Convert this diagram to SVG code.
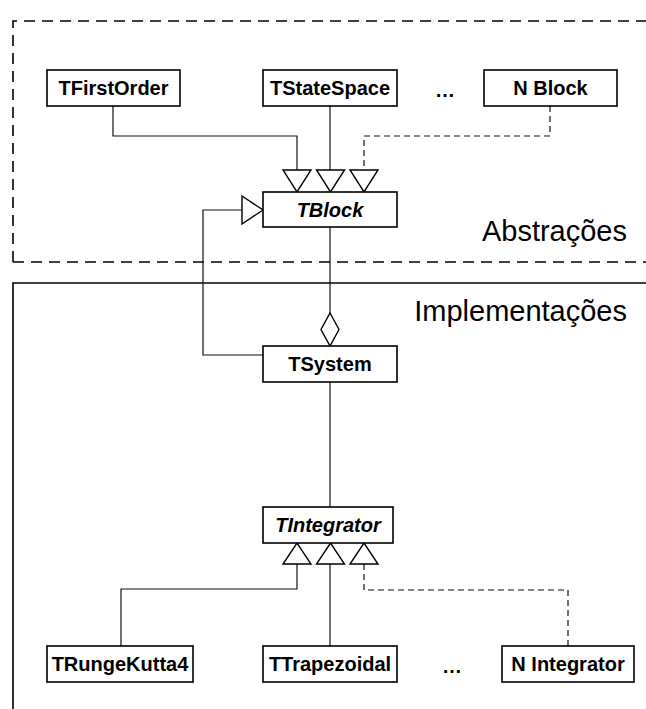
<svg xmlns="http://www.w3.org/2000/svg" width="646" height="709" viewBox="0 0 646 709">
  <defs>
    <style>
      .box { fill: #fff; stroke: #000; stroke-width: 1.6; }
      .lbl { font-family: "Liberation Sans", Arial, sans-serif; font-weight: bold; font-size: 20px; fill: #000; text-anchor: middle; }
      .abs { font-style: italic; }
      .area { font-family: "Liberation Sans", Arial, sans-serif; font-size: 29px; fill: #000; text-anchor: end; }
      .wire { fill: none; stroke: #111; stroke-width: 1.2; }
      .dash { stroke-dasharray: 6 4; }
      .head { fill: #fff; stroke: #000; stroke-width: 1.4; }
    </style>
  </defs>

  <!-- package frames -->
  <g id="frame-abstracoes">
    <path d="M13 262 V21 H646 M13 262 H646" fill="none" stroke="#000" stroke-width="1.6" stroke-dasharray="11 7"/>
    <text class="area" x="627" y="241">Abstrações</text>
  </g>
  <g id="frame-implementacoes">
    <path d="M13 709 V283 H646" fill="none" stroke="#000" stroke-width="1.6"/>
    <text class="area" x="627" y="321">Implementações</text>
  </g>

  <!-- connectors -->
  <g id="connectors">
    <path class="wire" d="M113 106 V136 H297 V170"/>
    <path class="wire" d="M330 106 V170"/>
    <path class="wire dash" d="M550 106 V136 H364 V170"/>
    <path class="wire" d="M330 227 V313"/>
    <path class="wire" d="M263 355 H203 V210 H242"/>
    <path class="wire" d="M330 382 V507"/>
    <path class="wire" d="M121 646 V589 H297 V564"/>
    <path class="wire" d="M330 646 V564"/>
    <path class="wire dash" d="M568 646 V590 H364 V564"/>
    <!-- generalization heads into TBlock -->
    <polygon class="head" points="283,170 311,170 297,192"/>
    <polygon class="head" points="316.5,170 344.5,170 330.5,192"/>
    <polygon class="head" points="350,170 378,170 364,192"/>
    <polygon class="head" points="242,196 242,224 263,210"/>
    <!-- aggregation diamond on TSystem -->
    <polygon class="head" points="330,313 339,329.5 330,346 321,329.5"/>
    <!-- generalization heads into TIntegrator -->
    <polygon class="head" points="283,564 311,564 297,543"/>
    <polygon class="head" points="316.5,564 344.5,564 330.5,543"/>
    <polygon class="head" points="350,564 378,564 364,543"/>
  </g>

  <g id="TFirstOrder">
    <rect class="box" x="47" y="70" width="133" height="36"/>
    <text class="lbl" x="113.5" y="95">TFirstOrder</text>
  </g>
  <g id="TStateSpace">
    <rect class="box" x="263" y="70" width="134" height="36"/>
    <text class="lbl" x="330" y="95">TStateSpace</text>
  </g>
  <g id="ellipsis-blocks">
    <text class="lbl" x="445" y="97">…</text>
  </g>
  <g id="NBlock">
    <rect class="box" x="484" y="70" width="133" height="36"/>
    <text class="lbl" x="550.5" y="95">N Block</text>
  </g>
  <g id="TBlock">
    <rect class="box" x="263" y="192" width="134" height="35"/>
    <text class="lbl abs" x="330" y="216.5">TBlock</text>
  </g>
  <g id="TSystem">
    <rect class="box" x="263" y="346" width="134" height="36"/>
    <text class="lbl" x="330" y="371">TSystem</text>
  </g>
  <g id="TIntegrator">
    <rect class="box" x="263" y="507" width="130" height="36"/>
    <text class="lbl abs" x="328" y="532">TIntegrator</text>
  </g>
  <g id="TRungeKutta4">
    <rect class="box" x="47" y="646" width="146" height="36"/>
    <text class="lbl" x="120" y="671">TRungeKutta4</text>
  </g>
  <g id="TTrapezoidal">
    <rect class="box" x="263" y="646" width="134" height="36"/>
    <text class="lbl" x="330" y="671">TTrapezoidal</text>
  </g>
  <g id="ellipsis-integrators">
    <text class="lbl" x="452" y="673">…</text>
  </g>
  <g id="NIntegrator">
    <rect class="box" x="502" y="646" width="132" height="36"/>
    <text class="lbl" x="568" y="671">N Integrator</text>
  </g>
</svg>
